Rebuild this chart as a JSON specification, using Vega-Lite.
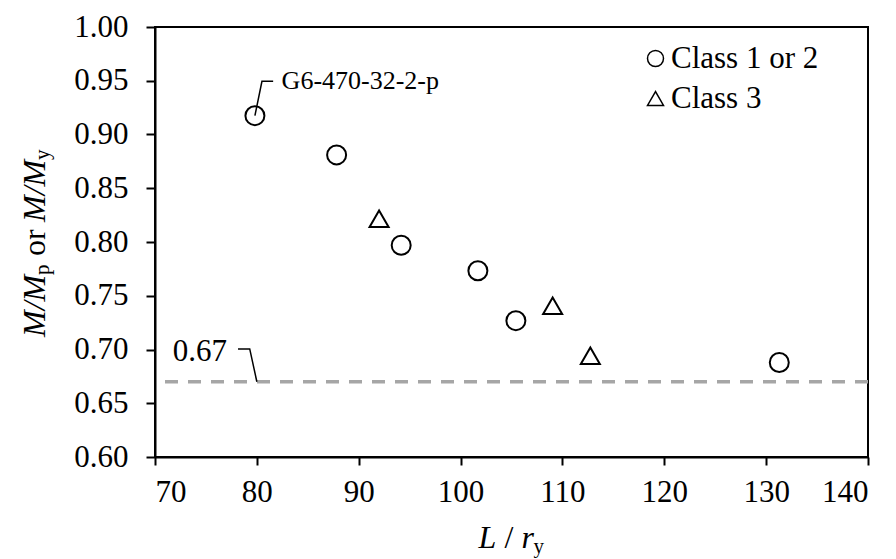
{
  "$schema": "https://vega.github.io/schema/vega-lite/v6.json",
  "width": 713,
  "height": 430,
  "autosize": {"type": "none"},
  "padding": {"left": 155, "top": 27, "right": 28, "bottom": 102},
  "background": "white",
  "config": {
    "font": "Liberation Serif",
    "view": {"stroke": "black", "strokeWidth": 2},
    "axis": {"grid": false, "domainColor": "black", "domainWidth": 2, "tickColor": "black", "tickWidth": 2, "labelColor": "black", "labelFont": "Liberation Serif", "labelFontSize": 31},
    "legend": {"labelFont": "Liberation Serif", "labelFontSize": 31, "labelColor": "black", "padding": 0}
  },
  "datasets": {
    "points": [
      {"slenderness": 79.81, "ratio": 0.9175, "cls": "Class 1 or 2"},
      {"slenderness": 87.83, "ratio": 0.881, "cls": "Class 1 or 2"},
      {"slenderness": 92.0, "ratio": 0.8216, "cls": "Class 3"},
      {"slenderness": 94.17, "ratio": 0.797, "cls": "Class 1 or 2"},
      {"slenderness": 101.7, "ratio": 0.7733, "cls": "Class 1 or 2"},
      {"slenderness": 105.43, "ratio": 0.7268, "cls": "Class 1 or 2"},
      {"slenderness": 109.04, "ratio": 0.7407, "cls": "Class 3"},
      {"slenderness": 112.74, "ratio": 0.6941, "cls": "Class 3"},
      {"slenderness": 131.29, "ratio": 0.6879, "cls": "Class 1 or 2"}
    ],
    "leaders": [
      {"lx": 79.81, "ly": 0.9175, "grp": "G", "ord": 1},
      {"lx": 80.5, "ly": 0.9495, "grp": "G", "ord": 2},
      {"lx": 81.6, "ly": 0.9495, "grp": "G", "ord": 3},
      {"lx": 78.15, "ly": 0.7005, "grp": "L", "ord": 1},
      {"lx": 79.3, "ly": 0.7005, "grp": "L", "ord": 2},
      {"lx": 80.0, "ly": 0.67, "grp": "L", "ord": 3}
    ],
    "one": [{}]
  },
  "layer": [
    {
      "data": {"name": "one"},
      "mark": {"type": "rule", "color": "#a6a6a6", "strokeWidth": 3.5, "strokeDash": [13, 10]},
      "encoding": {"y": {"datum": 0.67, "type": "quantitative"}}
    },
    {
      "data": {"name": "leaders"},
      "mark": {"type": "line", "color": "black", "strokeWidth": 1.5},
      "encoding": {
        "x": {"field": "lx", "type": "quantitative"},
        "y": {"field": "ly", "type": "quantitative"},
        "detail": {"field": "grp"},
        "order": {"field": "ord"}
      }
    },
    {
      "data": {"name": "points"},
      "mark": {"type": "point", "filled": false, "color": "black", "strokeWidth": 2, "size": 361, "opacity": 1},
      "encoding": {
        "x": {"field": "slenderness", "type": "quantitative",
          "scale": {"domain": [70, 140], "nice": false, "zero": false},
          "axis": {"title": null, "values": [70, 80, 90, 100, 110, 120, 130, 140], "tickSize": 8, "labelPadding": 12}},
        "y": {"field": "ratio", "type": "quantitative",
          "scale": {"domain": [0.6, 1.0], "nice": false, "zero": false},
          "axis": {"title": null, "values": [0.6, 0.65, 0.7, 0.75, 0.8, 0.85, 0.9, 0.95, 1.0], "format": ".2f", "tickSize": 9, "labelPadding": 18}},
        "shape": {"field": "cls", "type": "nominal",
          "scale": {"domain": ["Class 1 or 2", "Class 3"], "range": ["circle", "triangle-up"]},
          "legend": {"title": null, "orient": "none", "legendX": 485, "legendY": 16, "symbolSize": 256, "symbolStrokeColor": "black", "symbolFillColor": "transparent", "symbolStrokeWidth": 1.5, "labelOffset": 0, "rowPadding": 8}}
      }
    },
    {
      "data": {"name": "one"},
      "mark": {"type": "text", "text": "G6-470-32-2-p", "fontSize": 26, "align": "left", "baseline": "alphabetic", "color": "black"},
      "encoding": {"x": {"datum": 82.43, "type": "quantitative"}, "y": {"datum": 0.942, "type": "quantitative"}}
    },
    {
      "data": {"name": "one"},
      "mark": {"type": "text", "text": "0.67", "fontSize": 31, "align": "right", "baseline": "alphabetic", "color": "black"},
      "encoding": {"x": {"datum": 77.07, "type": "quantitative"}, "y": {"datum": 0.6893, "type": "quantitative"}}
    },
    {
      "data": {"name": "one"},
      "mark": {"type": "text", "text": "L", "fontSize": 32, "fontStyle": "italic", "align": "left", "baseline": "alphabetic", "color": "black", "dx": -33},
      "encoding": {"x": {"datum": 105, "type": "quantitative"}, "y": {"datum": 0.5153, "type": "quantitative"}}
    },
    {
      "data": {"name": "one"},
      "mark": {"type": "text", "text": "/", "fontSize": 32, "align": "left", "baseline": "alphabetic", "color": "black", "dx": -7},
      "encoding": {"x": {"datum": 105, "type": "quantitative"}, "y": {"datum": 0.5153, "type": "quantitative"}}
    },
    {
      "data": {"name": "one"},
      "mark": {"type": "text", "text": "r", "fontSize": 32, "fontStyle": "italic", "align": "left", "baseline": "alphabetic", "color": "black", "dx": 10},
      "encoding": {"x": {"datum": 105, "type": "quantitative"}, "y": {"datum": 0.5153, "type": "quantitative"}}
    },
    {
      "data": {"name": "one"},
      "mark": {"type": "text", "text": "y", "fontSize": 21, "align": "left", "baseline": "alphabetic", "color": "black", "dx": 22, "dy": 5},
      "encoding": {"x": {"datum": 105, "type": "quantitative"}, "y": {"datum": 0.5153, "type": "quantitative"}}
    },
    {
      "data": {"name": "one"},
      "mark": {"type": "text", "text": "M/M", "fontSize": 32, "fontStyle": "italic", "angle": 270, "align": "left", "baseline": "alphabetic", "color": "black", "dx": 0},
      "encoding": {"x": {"datum": 59.2, "type": "quantitative"}, "y": {"datum": 0.7116, "type": "quantitative"}}
    },
    {
      "data": {"name": "one"},
      "mark": {"type": "text", "text": "p", "fontSize": 21, "angle": 270, "align": "left", "baseline": "alphabetic", "color": "black", "dx": 62, "dy": 4},
      "encoding": {"x": {"datum": 59.2, "type": "quantitative"}, "y": {"datum": 0.7116, "type": "quantitative"}}
    },
    {
      "data": {"name": "one"},
      "mark": {"type": "text", "text": "or", "fontSize": 32, "angle": 270, "align": "left", "baseline": "alphabetic", "color": "black", "dx": 81},
      "encoding": {"x": {"datum": 59.2, "type": "quantitative"}, "y": {"datum": 0.7116, "type": "quantitative"}}
    },
    {
      "data": {"name": "one"},
      "mark": {"type": "text", "text": "M/M", "fontSize": 32, "fontStyle": "italic", "angle": 270, "align": "left", "baseline": "alphabetic", "color": "black", "dx": 115},
      "encoding": {"x": {"datum": 59.2, "type": "quantitative"}, "y": {"datum": 0.7116, "type": "quantitative"}}
    },
    {
      "data": {"name": "one"},
      "mark": {"type": "text", "text": "y", "fontSize": 21, "angle": 270, "align": "left", "baseline": "alphabetic", "color": "black", "dx": 177, "dy": 4},
      "encoding": {"x": {"datum": 59.2, "type": "quantitative"}, "y": {"datum": 0.7116, "type": "quantitative"}}
    }
  ]
}
